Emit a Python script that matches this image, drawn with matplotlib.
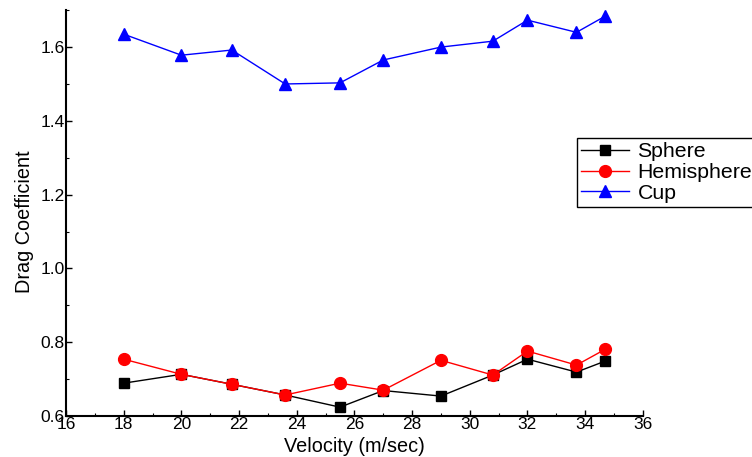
import numpy as np
import matplotlib.pyplot as plt
from matplotlib.ticker import MultipleLocator

plt.rcParams['font.family'] = ['Liberation Sans', 'DejaVu Sans']

# data
velocity = [18.0, 20.0, 21.75, 23.6, 25.5, 27.0, 29.0, 30.8, 32.0, 33.7, 34.7]
sphere = [0.689, 0.713, 0.686, 0.657, 0.624, 0.669, 0.654, 0.711, 0.754, 0.719, 0.749]
hemisphere = [0.754, 0.713, 0.686, 0.657, 0.689, 0.670, 0.751, 0.711, 0.776, 0.738, 0.781]
cup = [1.635, 1.578, 1.592, 1.500, 1.503, 1.565, 1.600, 1.616, 1.673, 1.640, 1.684]

fig = plt.figure(figsize=(7.52, 4.57), dpi=100)
ax = fig.add_axes([0.0878, 0.0897, 0.767, 0.888])

ax.plot(velocity, sphere, color='black', marker='s', ms=7, lw=1, label='Sphere')
ax.plot(velocity, hemisphere, color='red', marker='o', ms=8.5, lw=1, label='Hemisphere')
ax.plot(velocity, cup, color='blue', marker='^', ms=9, lw=1, label='Cup')

ax.set_xlim(16, 36)
ax.set_ylim(0.6, 1.7)
ax.xaxis.set_major_locator(MultipleLocator(2))
ax.xaxis.set_minor_locator(MultipleLocator(1))
ax.yaxis.set_minor_locator(MultipleLocator(0.1))
ax.set_yticks(np.arange(0.6, 1.61, 0.2))
ax.set_yticklabels(['0.6', '0.8', '1.0', '1.2', '1.4', '1.6'])

ax.spines['top'].set_visible(False)
ax.spines['right'].set_visible(False)
ax.spines['left'].set_linewidth(1.5)
ax.spines['bottom'].set_linewidth(1.5)
ax.tick_params(which='both', direction='in', labelsize=12.5, pad=1)
ax.tick_params(which='major', length=4, width=1)
ax.tick_params(which='minor', length=2, width=0.8)

ax.set_xlabel('Velocity (m/sec)', fontsize=14.3, labelpad=3)
ax.set_ylabel('Drag Coefficient', fontsize=14.3)
ax.yaxis.set_label_coords(-0.055, 0.48)

leg = ax.legend(loc='upper left', bbox_to_anchor=(577 / 752, 1 - 138 / 457),
                bbox_transform=fig.transFigure, borderaxespad=0, fontsize=15.3,
                handlelength=2.25, handletextpad=0.4, labelspacing=0.08,
                borderpad=0.2, fancybox=False, framealpha=1)
leg.get_frame().set_edgecolor('black')
leg.get_frame().set_linewidth(1)

fig.savefig('out.png', dpi=100)
